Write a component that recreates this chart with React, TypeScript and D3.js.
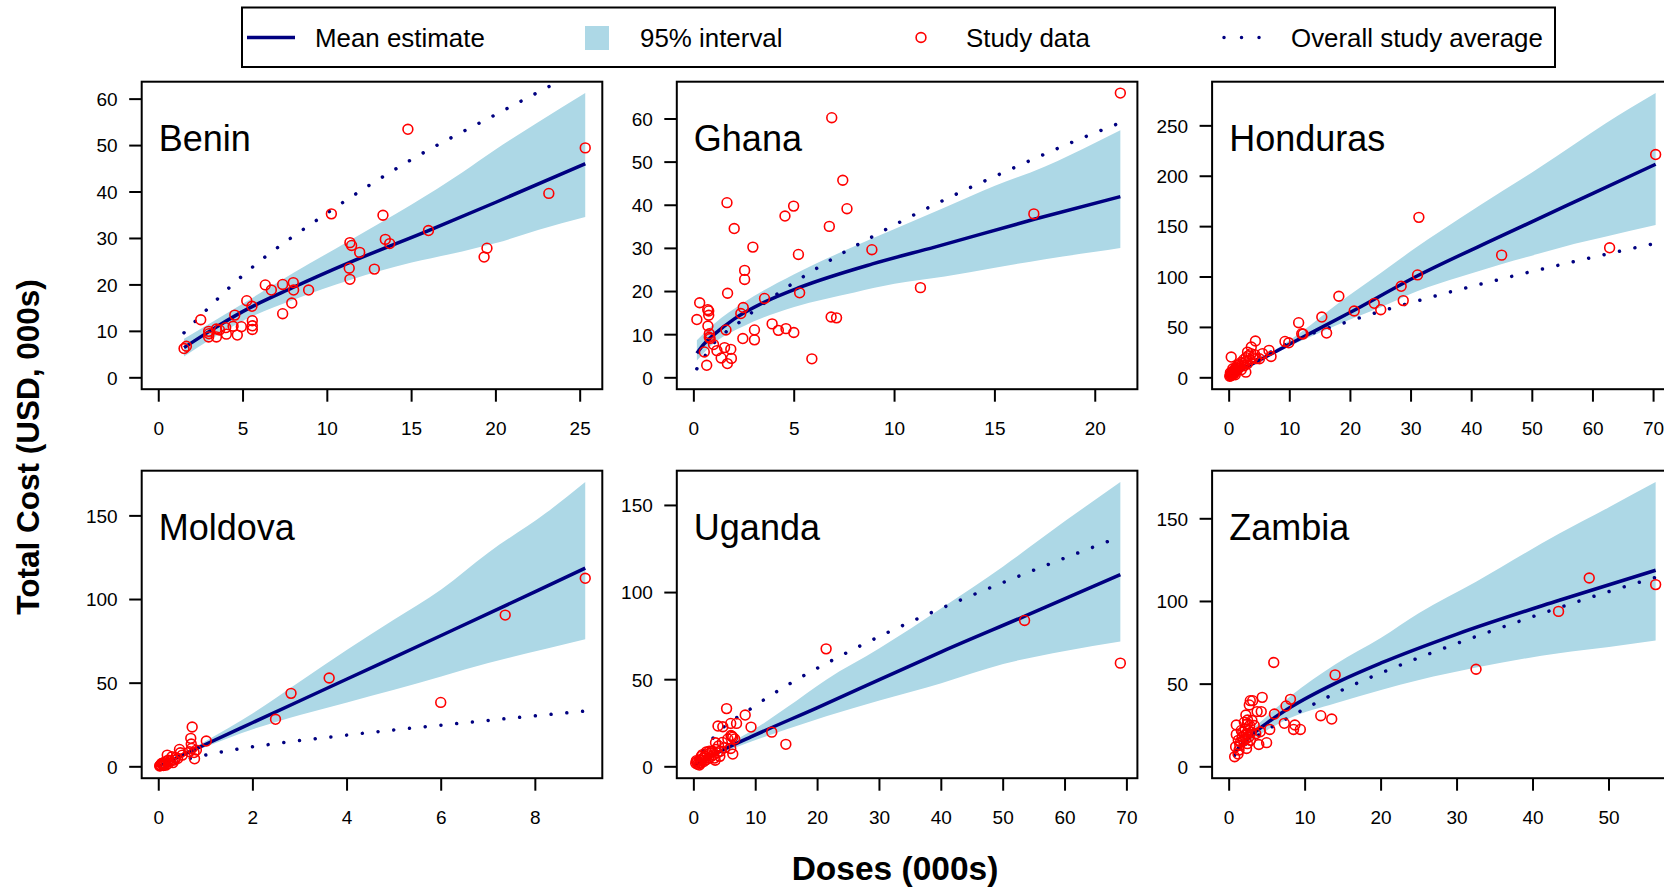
import React from 'react';
import * as d3 from 'd3';

const FONT = '"Liberation Sans", Arial, Helvetica, sans-serif';
const NAVY = '#000080';
const BAND = '#ADD8E6';

// ---- Benin ----
const beninPts = [[1.5,6.3],[1.64,6.8],[2.49,12.5],[2.96,10.0],[2.96,8.8],[2.98,9.5],[3.42,10.5],[3.42,8.8],[3.6,10.3],[4.01,9.4],[3.97,10.8],[4.41,11.1],[4.51,13.5],[4.66,9.2],[4.9,11.0],[5.22,16.6],[5.53,15.4],[5.55,12.3],[5.55,11.2],[5.55,10.4],[6.32,20.0],[6.68,18.9],[7.35,20.1],[7.35,13.8],[7.89,16.1],[7.98,20.5],[8.0,18.9],[8.89,18.9],[10.24,35.3],[11.34,29.1],[11.44,28.5],[11.92,27.0],[11.3,23.6],[11.34,21.2],[12.79,23.4],[13.3,35.0],[13.44,29.8],[13.7,28.9],[14.78,53.5],[16.0,31.7],[19.3,26.0],[19.47,27.9],[23.14,39.7],[25.3,49.5]];
const beninFitX = [1.5, 3, 5, 8, 11.3, 16, 20, 25.3];
const beninMean = [6.5, 10.0, 14.3, 19.5, 24.8, 31.7, 37.8, 46.1];
const beninBandX = [1.5, 5, 8, 11.3, 15, 18, 20, 22.5, 25.3];
const beninLo = [4.6, 12.3, 16.8, 21.0, 24.8, 27.2, 29.0, 31.8, 34.6];
const beninHi = [8.4, 16.0, 22.6, 29.5, 37.3, 44.2, 49.2, 55.0, 61.3];
const beninAvgX = [1.5, 5, 10, 15, 20, 23.36, 25.3];
const beninAvg = [9.7, 22.1, 35.5, 47.0, 56.7, 63.1, 66.7];

// ---- Ghana ----
const ghanaPts = [[0.15,13.5],[0.29,17.4],[0.52,6.0],[0.64,2.9],[0.69,15.8],[0.74,15.5],[0.74,14.5],[0.7,12.0],[0.77,10.2],[0.77,9.4],[0.81,9.1],[0.98,7.7],[1.15,6.3],[1.36,4.6],[1.53,7.0],[1.6,11.1],[1.65,40.6],[1.67,3.3],[1.68,19.6],[1.84,6.6],[1.87,4.5],[2.01,34.6],[2.34,14.9],[2.44,9.1],[2.46,16.3],[2.53,24.9],[2.53,22.8],[2.94,30.3],[3.02,11.1],[3.02,8.8],[3.52,18.4],[3.9,12.5],[4.21,11.0],[4.54,37.5],[4.59,11.4],[4.97,39.8],[4.98,10.5],[5.21,28.6],[5.27,19.7],[5.88,4.4],[6.75,35.1],[6.87,60.3],[6.84,14.1],[7.11,13.9],[7.42,45.8],[7.63,39.2],[8.87,29.7],[11.29,20.9],[16.94,38.0],[21.25,66.0]];
const ghanaFitX = [0.15, 0.5, 1, 2, 3.5, 5.3, 8.9, 12, 17, 21.25];
const ghanaMean = [5.7, 7.8, 10.0, 13.6, 17.5, 21.0, 26.4, 30.3, 36.8, 42.0];
const ghanaBandX = [0.15, 1, 2.5, 5, 8, 10, 12.5, 15, 17.5, 20, 21.25];
const ghanaLo = [4.0, 8.0, 12.0, 16.4, 19.8, 21.8, 23.5, 25.5, 27.5, 29.2, 30.1];
const ghanaHi = [8.7, 12.5, 17.5, 24.0, 30.5, 34.5, 39.5, 44.5, 49.0, 54.5, 57.4];
const ghanaAvgX = [0.15, 1, 2.27, 4.2, 6.2, 8.97, 12.5, 16.1, 19.0, 21.24];
const ghanaAvg = [2.1, 8.0, 12.9, 19.6, 25.6, 32.9, 41.3, 49.0, 54.9, 59.1];

// ---- Honduras ----
const hondurasPts = [[0.34,20.6],[4.33,36.5],[3.65,30.5],[3.03,25.5],[2.75,5.6],[5.0,18.9],[6.57,27.2],[6.91,21.2],[9.21,36.1],[9.83,34.8],[11.46,54.7],[11.97,43.8],[12.19,43.4],[15.28,60.3],[16.07,44.4],[18.09,80.9],[20.62,66.3],[23.93,73.9],[25.0,67.6],[28.37,90.8],[28.71,76.6],[31.07,102.1],[31.29,159.2],[44.94,121.7],[62.75,129.0],[70.34,221.5],
  [0.1,1.5],[0.2,2.5],[0.3,3.5],[0.3,2],[0.4,4.5],[0.5,3],[0.5,6],[0.6,5],[0.7,7],[0.8,4],[0.9,8],[1.0,6],[1.1,10],[1.2,7.5],[1.3,12],[1.5,9],[1.6,13],[1.8,11],[1.9,15],[2.0,8],[2.2,14],[2.4,18],[2.5,12],[2.7,16],[2.8,20],[3.0,14],[3.2,22],[3.4,18],[3.6,24],[3.9,20],[4.2,23],[4.5,19],[5.5,24],[0.2,5],[0.6,9],[1.0,3]];
const hondurasFitX = [0.1, 5, 10, 20, 31, 45, 60, 70.34];
const hondurasMean = [2.5, 17.5, 33.5, 65, 101, 141, 183, 211.9];
const hondurasBandX = [0.1, 6, 12, 18, 25, 31, 38, 45, 51, 57, 62, 70.34];
const hondurasLo = [2.4, 19.9, 37, 53, 70, 86, 100, 113, 123, 133, 140, 151.5];
const hondurasHi = [2.6, 22, 46, 74, 104, 130, 158, 185, 208, 232, 252, 282.5];
const hondurasAvgX = [0.1, 2, 5, 10, 19.2, 31.8, 44.5, 57, 70.34];
const hondurasAvg = [2, 9, 19.5, 35, 55, 77.6, 97.5, 115.5, 133.5];

// ---- Moldova ----
const moldovaPts = [[9.06,112.7],[7.36,90.7],[5.99,38.5],[3.62,53.1],[2.81,43.9],[2.48,28.4],[1.01,15.4],[0.71,23.8],[0.68,17.0],[0.69,13.6],[0.76,4.8],[0.8,10],[0.44,10.4],[0.46,8.4],[0.18,7.0],
  [0.02,0.5],[0.05,1],[0.08,1.5],[0.1,2.5],[0.12,1.5],[0.15,3],[0.2,4],[0.25,3.5],[0.3,2.5],[0.33,4],[0.36,5.5],[0.06,2],[0.03,0.8],[0.1,0.8],[0.15,1],[0.2,2],[0.28,6],[0.4,5],[0.5,7],[0.65,9],[0.7,11],[0.75,8.5]];
const moldovaFitX = [0.02, 0.5, 1, 2, 4, 6, 8, 9.06];
const moldovaMean = [0.5, 7.0, 13.5, 26.5, 52.5, 78.5, 104.7, 118.8];
const moldovaBandX = [0.02, 1, 2, 3, 4, 5, 6, 7, 8.23, 9.06];
const moldovaLo = [0.4, 12, 22.5, 31, 38.5, 46, 54, 62, 70.5, 76.3];
const moldovaHi = [0.6, 15.5, 32, 51, 70, 88, 106, 128, 151.8, 170.2];
const moldovaAvgX = [0.02, 0.67, 1.35, 2.36, 3.7, 5.05, 6.39, 7.74, 9.06];
const moldovaAvg = [0.3, 5.0, 9.0, 13.4, 18.0, 22.2, 26.0, 29.8, 33.3];

// ---- Uganda ----
const ugandaPts = [[68.94,59.5],[53.46,84.0],[21.38,67.7],[14.87,12.9],[12.59,19.9],[9.24,22.8],[8.3,29.7],[5.29,33.4],[3.9,23.4],[4.68,23.0],[5.96,24.9],[6.9,24.9],[6.13,17.6],[5.96,10.5],[6.29,7.3],[3.5,13.8],[3.45,3.8],
  [0.3,2],[0.5,3],[0.6,1.5],[0.8,2.5],[1.0,4],[1.1,2],[1.3,3.5],[1.5,5],[1.6,3],[1.8,6],[2.0,4],[2.2,7],[2.4,5],[2.6,8],[2.8,6],[3.0,9],[3.2,7],[3.5,10],[3.8,8],[4.0,12],[4.3,9],[4.6,14],[5.0,11],[5.5,16],[6.0,18],[6.3,17],[6.6,16],[1.4,7],[2.0,8.5],[2.5,9],[3.3,5],[4.2,6],[0.4,3.5],[0.9,1],[1.2,6]];
const ugandaFitX = [0.2, 2, 5, 9.3, 20, 30, 40, 53.5, 68.94];
const ugandaMean = [1.0, 4.7, 10.2, 17.3, 34.0, 50, 66, 86.5, 110.3];
const ugandaBandX = [0.2, 5, 9.3, 15, 21.4, 30, 40, 50, 60, 68.94];
const ugandaLo = [0.8, 8.5, 14.5, 21.5, 29, 38, 48, 59, 66.5, 71.9];
const ugandaHi = [1.2, 12.0, 20.5, 34, 50, 68, 91, 115, 141, 163.4];
const ugandaAvgX = [0.2, 3.2, 9.3, 15.8, 22.5, 31.7, 41.2, 50.7, 60.3, 68.94];
const ugandaAvg = [1.5, 16.9, 33.6, 48.3, 61.4, 77.7, 92.8, 106.8, 120.3, 132.0];

// ---- Zambia ----
const zambiaPts = [[56.14,110.2],[47.4,114.2],[43.36,94.0],[32.5,59.0],[13.95,55.6],[13.5,28.9],[12.06,30.9],[9.37,22.6],[8.65,25.3],[8.48,22.6],[8.07,40.8],[7.49,36.8],[7.26,26.3],[5.87,63.1],[5.96,31.9],[5.34,22.6],[4.93,14.6],[4.35,42.0],[3.9,13.5],[4.08,21.2],[4.22,33.4],[3.68,33.4],[2.78,40.0],[2.65,37.4],[3.09,40.0],[2.2,31.3],[2.42,28.3],[0.94,25.3],[0.94,19.6],[0.85,12.1],[0.72,6.1],[1.17,7.7],[1.3,10.1],[2.29,11.1],
  [1.5,15],[1.7,18],[1.8,21],[1.9,16],[2.0,19],[2.1,23],[2.2,17],[2.3,20],[2.4,14],[2.5,22],[2.6,18],[2.7,25],[2.8,16],[1.6,22],[1.4,13],[2.0,27],[3.0,28],[3.3,25],[3.5,20],[2.9,21],[1.2,16],[2.4,26]];
const zambiaFitX = [0.72, 2, 4.93, 8.07, 13.95, 20, 30, 43.36, 56.14];
const zambiaMean = [8.5, 15.3, 26.3, 36.0, 50.5, 62.8, 80.3, 100.6, 118.9];
const zambiaBandX = [0.72, 2, 4.93, 8, 14, 20, 25, 32.5, 43.4, 50, 56.14];
const zambiaLo = [7.5, 13, 22, 29.5, 38.5, 46.5, 52.5, 60, 68.7, 72.5, 76.4];
const zambiaHi = [9.5, 17.5, 30.5, 42.5, 62, 78, 93, 112, 141, 157, 172.2];
const zambiaAvgX = [0.72, 2, 4, 7.58, 11.26, 15.0, 20.76, 26.64, 32.5, 40.45, 48.4, 56.14];
const zambiaAvg = [7, 13, 19.5, 29.1, 38.2, 46.7, 58.2, 68.9, 78.8, 91.6, 103.7, 114.6];

// ticks
const beninXTicks = [0, 5, 10, 15, 20, 25];
const beninYTicks = [0, 10, 20, 30, 40, 50, 60];
const ghanaXTicks = [0, 5, 10, 15, 20];
const ghanaYTicks = [0, 10, 20, 30, 40, 50, 60];
const hondurasXTicks = [0, 10, 20, 30, 40, 50, 60, 70];
const hondurasYTicks = [0, 50, 100, 150, 200, 250];
const moldovaXTicks = [0, 2, 4, 6, 8];
const moldovaYTicks = [0, 50, 100, 150];
const ugandaXTicks = [0, 10, 20, 30, 40, 50, 60, 70];
const ugandaYTicks = [0, 50, 100, 150];
const zambiaXTicks = [0, 10, 20, 30, 40, 50];
const zambiaYTicks = [0, 50, 100, 150];

const legendLabels = ['Mean estimate', '95% interval', 'Study data', 'Overall study average'];

const panels = [
  { name: 'Benin', col: 0, row: 0, pts: beninPts, fitX: beninFitX, mean: beninMean, bandX: beninBandX, lo: beninLo, hi: beninHi, avgX: beninAvgX, avg: beninAvg, xt: beninXTicks, yt: beninYTicks },
  { name: 'Ghana', col: 1, row: 0, pts: ghanaPts, fitX: ghanaFitX, mean: ghanaMean, bandX: ghanaBandX, lo: ghanaLo, hi: ghanaHi, avgX: ghanaAvgX, avg: ghanaAvg, xt: ghanaXTicks, yt: ghanaYTicks },
  { name: 'Honduras', col: 2, row: 0, pts: hondurasPts, fitX: hondurasFitX, mean: hondurasMean, bandX: hondurasBandX, lo: hondurasLo, hi: hondurasHi, avgX: hondurasAvgX, avg: hondurasAvg, xt: hondurasXTicks, yt: hondurasYTicks },
  { name: 'Moldova', col: 0, row: 1, pts: moldovaPts, fitX: moldovaFitX, mean: moldovaMean, bandX: moldovaBandX, lo: moldovaLo, hi: moldovaHi, avgX: moldovaAvgX, avg: moldovaAvg, xt: moldovaXTicks, yt: moldovaYTicks },
  { name: 'Uganda', col: 1, row: 1, pts: ugandaPts, fitX: ugandaFitX, mean: ugandaMean, bandX: ugandaBandX, lo: ugandaLo, hi: ugandaHi, avgX: ugandaAvgX, avg: ugandaAvg, xt: ugandaXTicks, yt: ugandaYTicks },
  { name: 'Zambia', col: 2, row: 1, pts: zambiaPts, fitX: zambiaFitX, mean: zambiaMean, bandX: zambiaBandX, lo: zambiaLo, hi: zambiaHi, avgX: zambiaAvgX, avg: zambiaAvg, xt: zambiaXTicks, yt: zambiaYTicks },
];

const colX = [141.7, 676.8, 1212.1];
const rowY = [81.7, 470.7];
const boxW = 460.6;
const boxH = 307.5;

function Panel({ p, i }) {
  const left = colX[p.col];
  const top = rowY[p.row];
  const xmax = d3.max(p.pts, (d) => d[0]);
  const ymax = Math.max(d3.max(p.pts, (d) => d[1]), d3.max(p.hi));
  // R style 4% padding on both axes
  const x = d3.scaleLinear().domain([-0.04 * xmax, 1.04 * xmax]).range([left, left + boxW]);
  const y = d3.scaleLinear().domain([-0.04 * ymax, 1.04 * ymax]).range([top + boxH, top]);

  const area = d3.area().curve(d3.curveMonotoneX).x((d) => x(d)).y0((d, j) => y(p.lo[j])).y1((d, j) => y(p.hi[j]));
  const meanLine = d3.line().curve(d3.curveMonotoneX).x((d) => x(d)).y((d, j) => y(p.mean[j]));
  const avgLine = d3.line().curve(d3.curveMonotoneX).x((d) => x(d)).y((d, j) => y(p.avg[j]));
  const clipId = 'clip' + i;
  const bottom = top + boxH;

  return (
    <g>
      <defs>
        <clipPath id={clipId}>
          <rect x={left} y={top} width={boxW} height={boxH} />
        </clipPath>
      </defs>
      <g clipPath={`url(#${clipId})`}>
        <path d={area(p.bandX)} fill={BAND} stroke="none" />
        <path d={avgLine(p.avgX)} fill="none" stroke={NAVY} strokeWidth={3.5} strokeLinecap="round" strokeDasharray="0.01 15.8" />
        <path d={meanLine(p.fitX)} fill="none" stroke={NAVY} strokeWidth={3.5} />
        {p.pts.map((d, j) => (
          <circle key={j} cx={x(d[0])} cy={y(d[1])} r={4.9} fill="none" stroke="#FF0000" strokeWidth={1.6} />
        ))}
      </g>
      <rect x={left} y={top} width={boxW} height={boxH} fill="none" stroke="#000" strokeWidth={2} />
      {p.xt.map((t) => (
        <g key={'x' + t}>
          <line x1={x(t)} x2={x(t)} y1={bottom} y2={bottom + 12.5} stroke="#000" strokeWidth={2} />
          <text x={x(t)} y={bottom + 39} dy="0.36em" textAnchor="middle" fontSize={19} fontFamily={FONT}>{t}</text>
        </g>
      ))}
      {p.yt.map((t) => (
        <g key={'y' + t}>
          <line x1={left - 12.5} x2={left} y1={y(t)} y2={y(t)} stroke="#000" strokeWidth={2} />
          <text x={left - 24} y={y(t)} dy="0.36em" textAnchor="end" fontSize={19} fontFamily={FONT}>{t}</text>
        </g>
      ))}
      <text x={x(0)} y={top + 69.5} fontSize={36} fontFamily={FONT}>{p.name}</text>
    </g>
  );
}

function Legend() {
  const cy = 37.5;
  return (
    <g fontFamily={FONT} fontSize={25.9}>
      <rect x={242} y={7.5} width={1313} height={59.5} fill="#fff" stroke="#000" strokeWidth={2} />
      <line x1={247} x2={295} y1={cy} y2={cy} stroke={NAVY} strokeWidth={3.5} />
      <text x={315} y={cy} dy="0.36em">{legendLabels[0]}</text>
      <rect x={585} y={26} width={24} height={24} fill={BAND} />
      <text x={640} y={cy} dy="0.36em">{legendLabels[1]}</text>
      <circle cx={921} cy={cy} r={4.9} fill="none" stroke="#FF0000" strokeWidth={1.6} />
      <text x={966} y={cy} dy="0.36em">{legendLabels[2]}</text>
      <line x1={1224} x2={1262} y1={cy} y2={cy} stroke={NAVY} strokeWidth={3.5} strokeLinecap="round" strokeDasharray="0.01 17.5" />
      <text x={1291} y={cy} dy="0.36em">{legendLabels[3]}</text>
    </g>
  );
}

export default function App() {
  return (
    <div style={{ position: 'absolute', left: 0, top: 0, width: 1664, height: 890, overflow: 'hidden', background: '#fff' }}>
      <svg width={1664} height={890} style={{ display: 'block' }}>
        <rect width={1664} height={890} fill="#fff" />
        <Legend />
        {panels.map((p, i) => (
          <Panel key={p.name} p={p} i={i} />
        ))}
        <text transform="translate(39,447) rotate(-90)" textAnchor="middle" fontSize={31.5} fontWeight="bold" fontFamily={FONT}>
          Total Cost (USD, 000s)
        </text>
        <text x={895} y={880} textAnchor="middle" fontSize={33.5} fontWeight="bold" fontFamily={FONT}>
          Doses (000s)
        </text>
      </svg>
    </div>
  );
}
